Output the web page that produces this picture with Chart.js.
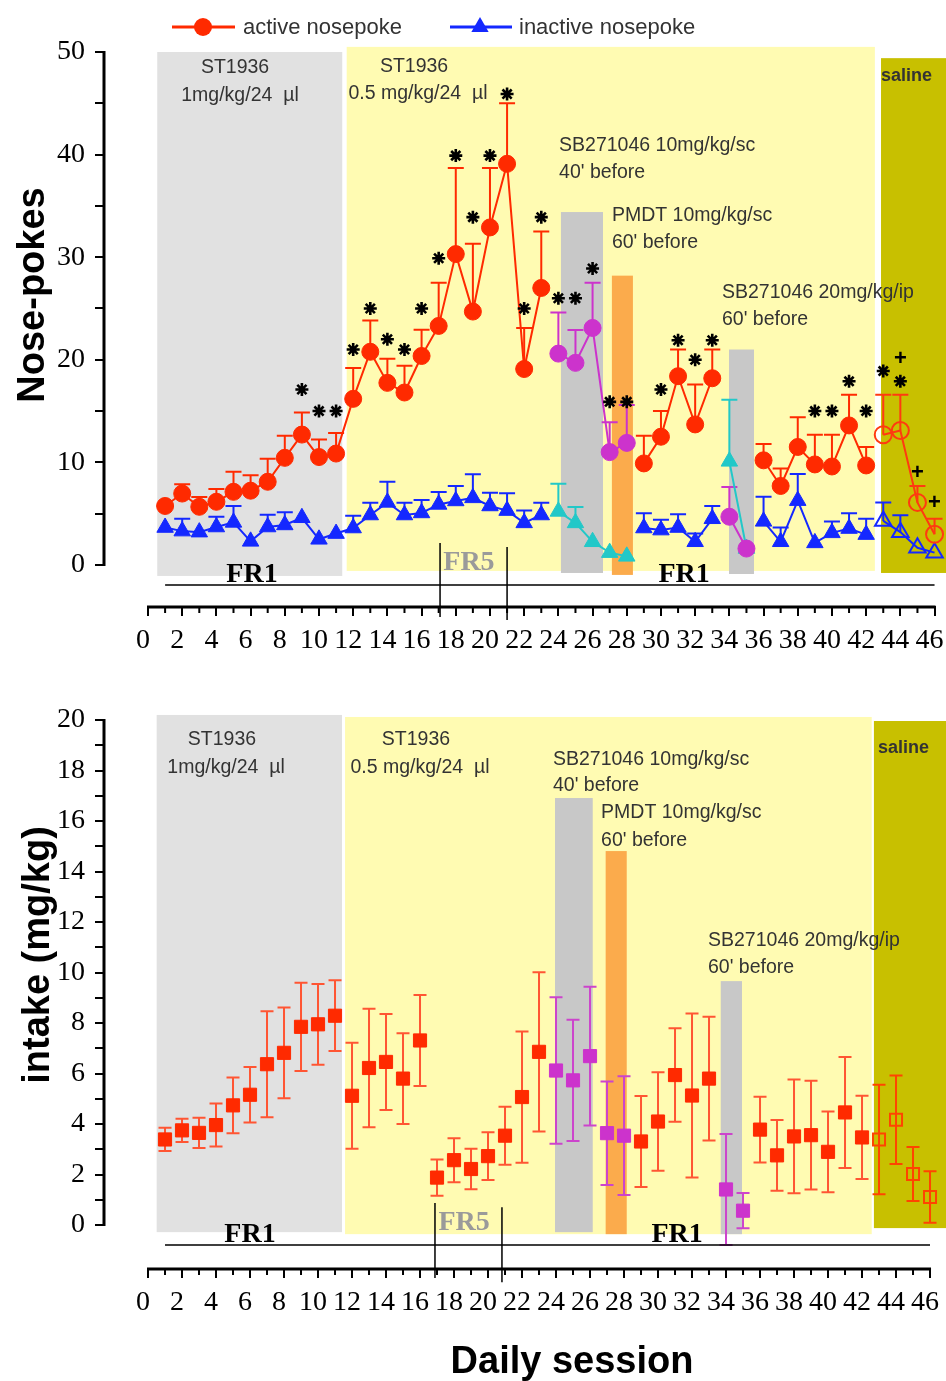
<!DOCTYPE html>
<html><head><meta charset="utf-8">
<script src="https://cdn.jsdelivr.net/npm/chart.js@4.4.0/dist/chart.umd.min.js"></script>
<style>html,body{margin:0;padding:0;background:#fff;}canvas{display:block;}</style>
</head><body>
<canvas id="topChart" width="946" height="690"></canvas>
<canvas id="botChart" width="946" height="691"></canvas>
<script>
// ---------- DATA ----------
const sessions = [1,2,3,4,5,6,7,8,9,10,11,12,13,14,15,16,17,18,19,20,21,22,23,24,25,26,27,28,29,30,31,32,33,34,35,36,37,38,39,40,41,42,43,44,45,46];
// v = ST1936 self-administration, d = pretreatment (antagonist), s = saline
const treatment = ['v','v','v','v','v','v','v','v','v','v','v','v','v','v','v','v','v','v','v','v','v','v','v',
                   'd','d','d','d','d','v','v','v','v','v','d','d','v','v','v','v','v','v','v','s','s','s','s'];
const activeMean = [5.75,6.96,5.67,6.16,7.13,7.24,8.11,10.44,12.71,10.52,10.86,16.19,20.78,17.75,16.81,20.37,23.3,30.3,24.7,32.9,39.1,19.1,27.0,20.6,19.7,23.1,11.0,11.9,9.9,12.5,18.4,13.7,18.2,4.7,1.6,10.2,7.7,11.5,9.8,9.6,13.6,9.7,12.7,13.1,6.1,3.0];
const activeSem = [0,0.9,0.95,1.25,1.95,1.5,2.25,2.15,2.15,1.7,2.0,3.0,3.05,2.35,2.6,2.55,4.2,8.4,6.6,5.8,5.9,4.0,5.5,4.0,3.2,4.4,2.9,3.7,2.7,2.5,2.6,3.9,2.8,2.9,0,1.6,1.7,2.9,2.9,3.1,3.0,1.8,3.9,3.5,1.6,1.5];
const inactiveMean = [3.65,3.3,3.2,3.7,4.15,2.3,3.7,3.9,4.6,2.5,3.06,3.6,4.87,6.1,4.87,5.07,5.9,6.24,6.54,5.75,5.3,4.1,4.87,5.22,4.1,2.26,1.2,0.84,3.6,3.4,3.65,2.26,4.5,10.1,1.6,4.25,2.26,6.27,2.15,3.13,3.55,2.96,4.29,3.2,1.67,1.2];
const inactiveSem = [0,1.2,0,1.0,1.6,0,1.2,1.25,0,0,0,1.2,1.2,2.0,1.2,1.25,1.2,1.45,2.3,1.3,1.7,1.2,1.2,2.7,1.55,0,0,0,1.45,1.0,1.3,0.8,1.25,6.0,0,2.4,1.4,2.6,0,1.1,1.5,1.55,1.8,1.65,0,0];
const intakeMean = [3.39,3.75,3.65,3.96,4.74,5.16,6.37,6.82,7.85,7.95,8.29,5.12,6.22,6.46,5.80,7.31,1.88,2.57,2.22,2.73,3.54,5.07,6.86,6.12,5.73,6.69,3.64,3.54,3.31,4.10,5.94,5.13,5.80,1.41,0.57,3.78,2.76,3.51,3.56,2.90,4.46,3.47,3.39,4.17,2.02,1.11];
const intakeSem = [0.46,0.46,0.6,0.85,1.1,1.1,2.1,1.8,1.75,1.6,1.4,2.1,2.35,1.9,1.8,1.8,0.72,0.87,0.8,0.95,1.15,2.6,3.15,2.9,2.4,2.75,2.05,2.35,1.8,1.95,1.85,3.25,2.45,2.2,0.7,1.3,1.4,2.25,2.15,1.6,2.2,1.65,2.17,1.75,1.07,1.02];
// significance marks (top panel): session and height (nose-pokes)
const starSessions = [9,10,11,12,13,14,15,16,17,18,19,20,21,22,23,24,25,26,27,28,30,31,32,33,39,40,41,42,43,44];
const starLevels = [17.1,15.0,15.0,21.0,25.0,22.0,21.0,25.0,29.9,39.9,33.9,39.9,45.9,25.0,33.9,26.0,26.0,28.9,15.9,15.9,17.1,21.9,20.0,21.9,15.0,15.0,17.9,15.0,18.9,17.9];
const plusSessions = [44,45,46];
const plusLevels = [20.1,9.0,6.0];
// tick values / labels
const xTickValues = [0,1,2,3,4,5,6,7,8,9,10,11,12,13,14,15,16,17,18,19,20,21,22,23,24,25,26,27,28,29,30,31,32,33,34,35,36,37,38,39,40,41,42,43,44,45,46];
const topYTicks = [0,5,10,15,20,25,30,35,40,45,50];
const botYTicks = [0,1,2,3,4,5,6,7,8,9,10,11,12,13,14,15,16,17,18,19,20];

// ---------- STYLE ----------
const RED='#ff2a00', MAG='#cc33cc', BLUE='#1428ff', CYAN='#22c8c8', ORG='#ff3a10';
const SANS='"Liberation Sans", Arial, sans-serif', SERIF='"Liberation Serif", "Times New Roman", serif';

function seg(values, code){ return sessions.map((s,i)=>({x:s, y: treatment[i]===code ? values[i] : null})); }

function drawStar(ctx, x, y){
  const r=6.5; ctx.lineWidth=2.6; ctx.lineCap='butt'; ctx.beginPath();
  for(let k=0;k<4;k++){ const a=k*Math.PI/4, c=Math.cos(a)*r, s=Math.sin(a)*r; ctx.moveTo(x-c,y-s); ctx.lineTo(x+c,y+s); }
  ctx.stroke();
  ctx.beginPath(); ctx.arc(x,y,2.6,0,Math.PI*2); ctx.fill();
}

const decor = {
  id:'decor',
  beforeDatasetsDraw(chart, a, o){
    const ctx=chart.ctx, xs=chart.scales.x, ys=chart.scales.y;
    const X=v=>xs.getPixelForValue(v), Y=v=>ys.getPixelForValue(v);
    ctx.save();
    for(const b of o.bands){ ctx.fillStyle=b.color; ctx.fillRect(X(b.x0),Y(b.y1),X(b.x1)-X(b.x0),Y(b.y0)-Y(b.y1)); }
    for(const t of o.notes){ ctx.font=t.font||o.noteFont; ctx.fillStyle='#333'; ctx.textAlign=t.align; ctx.textBaseline='middle'; ctx.fillText(t.text,X(t.x),Y(t.y)); }
    chart.data.datasets.forEach((ds,di)=>{
      if(!ds.err) return;
      const meta=chart.getDatasetMeta(di);
      meta.data.forEach((el,i)=>{
        const r=ds.data[i]; if(r.y==null) return; const e=ds.err[i]; if(!e) return;
        const yt=Y(r.y+e), yb=o.errBoth?Y(r.y-e):el.y;
        ctx.strokeStyle=ds.errColor; ctx.lineWidth=2; ctx.beginPath();
        ctx.moveTo(el.x,yb); ctx.lineTo(el.x,yt);
        ctx.moveTo(el.x-o.cap,yt); ctx.lineTo(el.x+o.cap,yt);
        if(o.errBoth){ ctx.moveTo(el.x-o.cap,yb); ctx.lineTo(el.x+o.cap,yb); }
        ctx.stroke();
      });
    });
    ctx.restore();
  },
  afterDraw(chart, a, o){
    const ctx=chart.ctx, xs=chart.scales.x, ys=chart.scales.y, ca=chart.chartArea;
    const X=v=>xs.getPixelForValue(v), Y=v=>ys.getPixelForValue(v);
    ctx.save();
    // stars
    if(o.stars){
      ctx.fillStyle='#000'; ctx.strokeStyle='#000';
      starSessions.forEach((s,i)=>drawStar(ctx,X(s),Y(starLevels[i])));
      ctx.textAlign='center'; ctx.textBaseline='middle';
      ctx.font='bold 22px '+SANS;
      plusSessions.forEach((s,i)=>ctx.fillText('+',X(s),Y(plusLevels[i])));
    }
    // axis lines
    ctx.strokeStyle='#000'; ctx.lineWidth=3; ctx.beginPath();
    ctx.moveTo(ca.left-1,Y(o.yTop)-1); ctx.lineTo(ca.left-1,Y(0)+1);
    ctx.moveTo(X(0)-1,ca.bottom+1); ctx.lineTo(X(46)+1,ca.bottom+1); ctx.stroke();
    ctx.lineWidth=2; ctx.beginPath();
    xTickValues.forEach(v=>{ if(v%2){ ctx.moveTo(X(v),ca.bottom); ctx.lineTo(X(v),ca.bottom+7);} });
    ctx.stroke();
    // FR schedule line
    ctx.lineWidth=1.5; ctx.beginPath();
    ctx.moveTo(X(1),Y(o.frY)); ctx.lineTo(X(46),Y(o.frY));
    o.frLines.forEach(l=>{ ctx.moveTo(X(l.x),Y(l.y0)); ctx.lineTo(X(l.x),Y(l.y1)); });
    ctx.stroke();
    ctx.textAlign='center'; ctx.textBaseline='middle';
    o.frText.forEach(t=>{ ctx.font='bold 28px '+SERIF; ctx.fillStyle=t.color; ctx.fillText(t.text,X(t.x),Y(t.y)); });
    // y title
    ctx.fillStyle='#000'; ctx.font='bold 38px '+SANS; ctx.textBaseline='alphabetic';
    ctx.translate(o.yTitle.x,o.yTitle.y); ctx.rotate(-Math.PI/2); ctx.fillText(o.yTitle.text,0,0);
    ctx.restore();
    if(o.xTitle){ ctx.save(); ctx.fillStyle='#000'; ctx.font='bold 38px '+SANS; ctx.textAlign='center'; ctx.textBaseline='alphabetic'; ctx.fillText(o.xTitle.text,o.xTitle.x,o.xTitle.y); ctx.restore(); }
    if(o.legend){
      ctx.save();
      o.legend.forEach(L=>{
        const ds=chart.data.datasets[L.ds];
        ctx.strokeStyle=ds.borderColor; ctx.lineWidth=3; ctx.beginPath(); ctx.moveTo(L.x0,L.y); ctx.lineTo(L.x1,L.y); ctx.stroke();
        ctx.fillStyle=ds.borderColor; ctx.beginPath();
        if(ds.pointStyle==='triangle'){ const r=10; ctx.moveTo(L.xm,L.y-r); ctx.lineTo(L.xm+r*0.866,L.y+r/2); ctx.lineTo(L.xm-r*0.866,L.y+r/2); ctx.closePath(); }
        else ctx.arc(L.xm,L.y,9,0,Math.PI*2);
        ctx.fill();
        ctx.fillStyle='#333'; ctx.font='22px '+SANS; ctx.textAlign='left'; ctx.textBaseline='middle';
        ctx.fillText(ds.label,L.tx,L.y+1);
      });
      ctx.restore();
    }
  }
};

function lineDs(label, data, color, style, radius, err, errColor, open){
  return {label, data, borderColor:color, backgroundColor: open?'rgba(0,0,0,0)':color,
    pointBackgroundColor: open?'rgba(0,0,0,0)':color, pointBorderColor:color, pointBorderWidth: open?2:1,
    pointStyle:style, pointRadius:radius, borderWidth:2, showLine:true, spanGaps:false, tension:0, fill:false,
    clip:false, err, errColor};
}
function sqDs(label, data, color, err, errColor, open){
  return {label, data, borderColor:color, backgroundColor: open?'rgba(0,0,0,0)':color,
    pointBackgroundColor: open?'rgba(0,0,0,0)':color, pointBorderColor:color, pointBorderWidth: open?2:1,
    pointStyle:'rect', pointRadius: open?8.5:9.3, showLine:false, clip:false, err, errColor};
}
function scalesFor(cfg){
  return {
    x:{type:'linear', bounds:'data', min:cfg.xmin, max:cfg.xmax,
       afterBuildTicks:s=>{ s.ticks=xTickValues.map(v=>({value:v})); },
       afterFit:s=>{ s.height=cfg.xh; s.paddingLeft=0; s.paddingRight=0; s.paddingTop=0; s.paddingBottom=0; },
       border:{display:false},
       grid:{drawOnChartArea:false, drawTicks:true, tickLength:10, lineWidth:2, tickWidth:2,
             tickColor:c=>(c.tick && c.tick.value%2===0)?'#000':'rgba(0,0,0,0)'},
       ticks:{autoSkip:false, maxRotation:0, minRotation:0, padding:8, labelOffset:-5, color:'#000',
              font:{family:SERIF, size:28}, callback:v=>(v%2===0?String(v):'')}},
    y:{type:'linear', bounds:'data', min:cfg.ymin, max:cfg.ymax,
       afterBuildTicks:s=>{ s.ticks=cfg.yTicks.map(v=>({value:v})); },
       afterFit:s=>{ s.width=105; s.paddingTop=0; s.paddingBottom=0; s.paddingLeft=0; s.paddingRight=0; },
       border:{display:false},
       grid:{drawOnChartArea:false, drawTicks:true, tickLength:10, lineWidth:2, tickWidth:2, tickColor:'#000'},
       ticks:{autoSkip:false, padding:10, color:'#000', font:{family:SERIF, size:28},
              callback:v=>(v%cfg.yLab===0?String(v):'')}}
  };
}

// ---------- TOP PANEL ----------
new Chart(document.getElementById('topChart'), {
  type:'line',
  data:{datasets:[
    lineDs('active nosepoke', seg(activeMean,'v'), RED, 'circle', 8.5, activeSem, RED, false),
    lineDs('active pretreated', seg(activeMean,'d'), MAG, 'circle', 8.5, activeSem, MAG, false),
    lineDs('active saline', seg(activeMean,'s'), ORG, 'circle', 8.5, activeSem, ORG, true),
    lineDs('inactive nosepoke', seg(inactiveMean,'v'), BLUE, 'triangle', 9.5, inactiveSem, BLUE, false),
    lineDs('inactive pretreated', seg(inactiveMean,'d'), CYAN, 'triangle', 9.5, inactiveSem, CYAN, false),
    lineDs('inactive saline', seg(inactiveMean,'s'), BLUE, 'triangle', 9.5, inactiveSem, BLUE, true)
  ]},
  options:{
    responsive:false, animation:false, devicePixelRatio:1,
    layout:{autoPadding:false, padding:{top:52,left:0,right:0,bottom:0}},
    plugins:{legend:{display:false}, tooltip:{enabled:false},
      decor:{
        yTop:50, frY:-1.95, cap:8, errBoth:false, stars:true,
        bands:[
          {x0:0.54,x1:11.36,y0:-1.07,y1:50.0,color:'#e1e1e1'},
          {x0:11.62,x1:42.51,y0:-0.58,y1:50.5,color:'#fffbb2'},
          {x0:24.15,x1:26.61,y0:-0.78,y1:34.4,color:'#c8c8c8'},
          {x0:27.13,x1:28.36,y0:-0.97,y1:28.2,color:'#fbab4c'},
          {x0:33.98,x1:35.44,y0:-0.88,y1:21.0,color:'#c8c8c8'},
          {x0:42.87,x1:46.8,y0:-0.78,y1:49.4,color:'#c8c000'}
        ],
        noteFont:'19.5px '+SANS,
        notes:[
          {text:'ST1936',x:5.09,y:48.44,align:'center'},
          {text:'1mg/kg/24  \u00b5l',x:5.38,y:45.71,align:'center'},
          {text:'ST1936',x:15.56,y:48.54,align:'center'},
          {text:'0.5 mg/kg/24  \u00b5l',x:15.79,y:45.91,align:'center'},
          {text:'SB271046 10mg/kg/sc',x:24.04,y:40.84,align:'left'},
          {text:"40' before",x:24.04,y:38.21,align:'left'},
          {text:'PMDT 10mg/kg/sc',x:27.13,y:34.02,align:'left'},
          {text:"60' before",x:27.13,y:31.38,align:'left'},
          {text:'SB271046 20mg/kg/ip',x:33.57,y:26.51,align:'left'},
          {text:"60' before",x:33.57,y:23.88,align:'left'},
          {text:'saline',x:42.87,y:47.66,align:'left',font:'bold 18px '+SANS}
        ],
        frLines:[{x:17.08,y0:2.14,y1:-5.07},{x:21.0,y0:1.75,y1:-5.36}],
        frText:[{text:'FR1',x:6.08,y:-0.97,color:'#000'},{text:'FR5',x:18.77,y:0.19,color:'#9a9a9a'},{text:'FR1',x:31.35,y:-0.97,color:'#000'}],
        yTitle:{text:'Nose-pokes',x:44,y:295},
        legend:[{ds:0,x0:172,x1:235,xm:203,tx:243,y:27},{ds:3,x0:450,x1:512,xm:480,tx:519,y:27}]
      }},
    scales:scalesFor({xmin:-2.515,xmax:46.67,xh:84,ymin:-4.0,ymax:50,yTicks:topYTicks,yLab:10})
  },
  plugins:[decor]
});

// ---------- BOTTOM PANEL ----------
new Chart(document.getElementById('botChart'), {
  type:'line',
  data:{datasets:[
    sqDs('intake', seg(intakeMean,'v'), RED, intakeSem, '#ff5533', false),
    sqDs('intake pretreated', seg(intakeMean,'d'), MAG, intakeSem, '#cc44cc', false),
    sqDs('intake saline', seg(intakeMean,'s'), '#ff4400', intakeSem, '#ff4400', true)
  ]},
  options:{
    responsive:false, animation:false, devicePixelRatio:1,
    layout:{autoPadding:false, padding:{top:30,left:0,right:0,bottom:0}},
    plugins:{legend:{display:false}, tooltip:{enabled:false},
      decor:{
        yTop:20, frY:-0.79, cap:6.5, errBoth:true, stars:false,
        bands:[
          {x0:0.51,x1:11.41,y0:-0.28,y1:20.2,color:'#e1e1e1'},
          {x0:11.59,x1:42.57,y0:-0.36,y1:20.12,color:'#fffbb2'},
          {x0:23.94,x1:26.16,y0:-0.28,y1:16.91,color:'#c8c8c8'},
          {x0:26.92,x1:28.16,y0:-0.36,y1:14.81,color:'#fbab4c'},
          {x0:33.69,x1:34.94,y0:-0.36,y1:9.66,color:'#c8c8c8'},
          {x0:42.7,x1:46.95,y0:-0.12,y1:19.96,color:'#c8c000'}
        ],
        noteFont:'19.5px '+SANS,
        notes:[
          {text:'ST1936',x:4.35,y:19.21,align:'center'},
          {text:'1mg/kg/24  \u00b5l',x:4.59,y:18.10,align:'center'},
          {text:'ST1936',x:15.76,y:19.21,align:'center'},
          {text:'0.5 mg/kg/24  \u00b5l',x:16.0,y:18.10,align:'center'},
          {text:'SB271046 10mg/kg/sc',x:23.82,y:18.42,align:'left'},
          {text:"40' before",x:23.82,y:17.39,align:'left'},
          {text:'PMDT 10mg/kg/sc',x:26.65,y:16.32,align:'left'},
          {text:"60' before",x:26.65,y:15.21,align:'left'},
          {text:'SB271046 20mg/kg/ip',x:32.94,y:11.25,align:'left'},
          {text:"60' before",x:32.94,y:10.18,align:'left'},
          {text:'saline',x:42.94,y:18.89,align:'left',font:'bold 18px '+SANS}
        ],
        frLines:[{x:16.88,y0:0.87,y1:-2.1},{x:20.82,y0:0.71,y1:-2.26}],
        frText:[{text:'FR1',x:6.0,y:-0.40,color:'#000'},{text:'FR5',x:18.59,y:0.08,color:'#9a9a9a'},{text:'FR1',x:31.12,y:-0.40,color:'#000'}],
        yTitle:{text:'intake (mg/kg)',x:49,y:265},
        xTitle:{text:'Daily session',x:572,y:683}
      }},
    scales:scalesFor({xmin:-2.53,xmax:46.94,xh:113,ymin:-1.70,ymax:20,yTicks:botYTicks,yLab:2})
  },
  plugins:[decor]
});
</script>
</body></html>
